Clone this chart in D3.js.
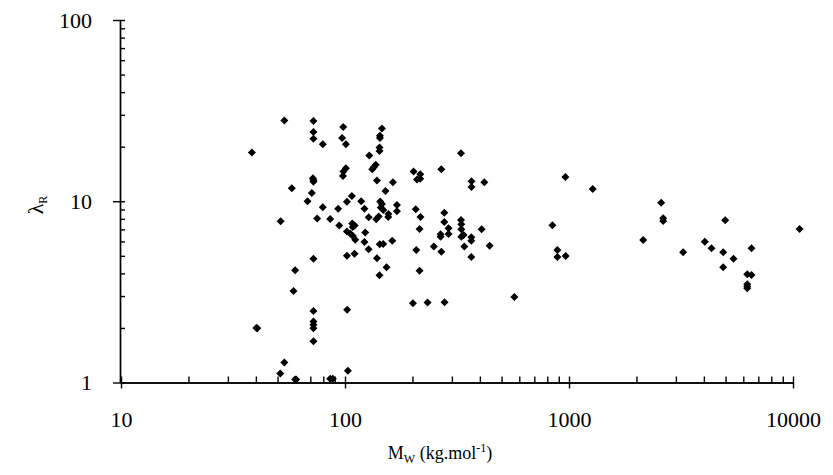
<!DOCTYPE html>
<html>
<head>
<meta charset="utf-8">
<script src="https://cdn.jsdelivr.net/npm/d3@7"></script>
<style>
  body { margin: 0; background: #fff; }
  svg { display: block; }
  text { font-family: "Liberation Serif", "DejaVu Serif", serif; }
</style>
</head>
<body>
<svg width="833" height="475"></svg>
<script>
// molecular weight (kg/mol)
var mw = [38.4, 40.2, 40.6, 51.6, 51.4, 53.6, 53.6, 57.9, 59.9, 58.9, 59.9, 60.5,
  68.0, 72.3, 72.3, 72.3, 71.9, 72.3, 72.3, 71.1, 72.3, 72.3, 72.3, 72.3, 72.3, 72.3,
  75.1, 79.6, 79.6, 85.9, 85.9, 88.3, 93.2, 94.2,
  98.2, 97.1, 100.9, 100.9, 98.4, 97.9, 102, 102, 102, 102.3, 103,
  107.3, 107.7, 110.5, 108.2, 105.5, 108.4, 111.1, 110.3,
  118.1, 122.1, 127.6, 123.1, 122.1, 127.4, 128.3, 137.1, 134.4, 132.3, 138.9, 138.9, 137.9,
  146.2, 143.2, 143.2, 142.6, 142.6, 143.6, 146.2, 144.4, 148.2, 141.4, 142.9, 148.2, 142.6,
  151.6, 163.7, 156.3, 156.0, 162.5, 153.3, 170.6, 170.6,
  202.3, 216.8, 209.6, 216.8, 207.0, 217.3, 215.2, 208.1, 215.2, 201.1, 233.7, 249.1,
  269.1, 277.5, 277.5, 290.0, 290.0, 267.1, 267.1, 269.1, 278.3,
  329.5, 329.5, 330.5, 330.5, 330.5, 338.4, 340.9, 367.1, 367.1, 366.3, 366.3, 366.3,
  407.2, 418.7, 442.2, 570.2, 843.1, 887.5, 887.5, 966.5, 963.5, 1276,
  2144, 2579, 2633, 2633, 3233, 4038, 4326, 4880, 5426, 4880, 4982,
  6528, 6248, 6528, 6248, 6248, 6248, 10700];

// lambda_R
var lambdaR = [18.6, 2.00, 1.99, 7.76, 1.12, 27.9, 1.29, 11.8, 4.16, 3.20, 1.04, 1.04,
  10.0, 27.7, 24.1, 22.1, 13.4, 13.1, 12.8, 11.1, 4.82, 2.48, 2.17, 2.08, 1.99, 1.69,
  8.02, 20.6, 9.27, 7.99, 1.05, 1.05, 9.09, 7.36,
  25.7, 22.3, 20.6, 15.2, 14.6, 13.8, 9.94, 6.81, 5.00, 2.52, 1.16,
  10.7, 7.54, 7.36, 7.21, 6.64, 6.44, 6.14, 5.13,
  10.0, 9.09, 8.17, 6.73, 5.96, 5.44, 17.9, 15.9, 15.4, 15.0, 13.0, 4.85, 7.96,
  25.2, 23.0, 22.3, 19.8, 18.95, 9.97, 9.66, 9.24, 8.95, 8.25, 5.79, 5.81, 3.90,
  11.4, 12.75, 8.51, 8.19, 6.06, 4.32, 9.52, 8.82,
  14.6, 14.1, 13.2, 13.3, 9.03, 8.19, 7.03, 5.39, 4.14, 2.74, 2.76, 5.62,
  15.0, 8.65, 7.69, 7.10, 6.60, 6.58, 6.38, 5.27, 2.77,
  18.4, 7.88, 7.47, 7.01, 6.38, 6.52, 5.62, 12.9, 12.0, 6.33, 6.06, 4.93,
  7.01, 12.75, 5.69, 2.96, 7.37, 5.39, 4.93, 4.99, 13.6, 11.7,
  6.12, 9.82, 8.06, 7.78, 5.23, 5.98, 5.50, 5.23, 4.82, 4.32, 7.86,
  5.50, 3.96, 3.92, 3.48, 3.39, 3.31, 7.03];

var xTicks = [10, 100, 1000, 10000];
var yTicks = [1, 10, 100];

var svg = d3.select("svg");

var x = d3.scaleLog().domain([10, 10000]).range([121, 793]);
var y = d3.scaleLog().domain([1, 100]).range([382.5, 20]);

// x axis: minor ticks inward, major ticks crossing
svg.append("g")
  .attr("transform", "translate(0,382.5)")
  .call(d3.axisBottom(x).tickValues(x.ticks()).tickSize(-6).tickSizeOuter(0).tickFormat(""));
svg.append("g")
  .attr("transform", "translate(0,382.5)")
  .call(d3.axisBottom(x).tickValues(xTicks).tickSize(6).tickSizeOuter(0).tickPadding(23)
    .tickFormat(d3.format("d")));

// y axis
svg.append("g")
  .attr("transform", "translate(120,0)")
  .call(d3.axisLeft(y).tickValues(y.ticks()).tickSize(-5).tickSizeOuter(0).tickFormat(""));
svg.append("g")
  .attr("transform", "translate(120,0)")
  .call(d3.axisLeft(y).tickValues(yTicks).tickSize(7).tickSizeOuter(0).tickPadding(21)
    .tickFormat(d3.format("d")));

svg.selectAll(".domain, .tick line")
  .attr("stroke", "#000")
  .attr("stroke-width", 1.4);
svg.selectAll(".tick text")
  .attr("fill", "#000")
  .style("font-size", "22px");

// points
svg.append("g")
  .selectAll("path")
  .data(mw)
  .enter()
  .append("path")
  .attr("d", d3.symbol().type(d3.symbolSquare).size(32))
  .attr("transform", function(d, i) {
    return "translate(" + x(d) + "," + y(lambdaR[i]) + ") rotate(45)";
  })
  .style("fill", "#000");

// axis titles
var xt = svg.append("text")
  .attr("x", 440)
  .attr("y", 459)
  .attr("text-anchor", "middle")
  .style("font-size", "18px");
xt.append("tspan").text("M");
xt.append("tspan").attr("dy", 4).style("font-size", "12px").text("W");
xt.append("tspan").attr("dy", -4).text(" (kg.mol");
xt.append("tspan").attr("dy", -7).style("font-size", "12px").text("-1");
xt.append("tspan").attr("dy", 7).text(")");

var yt = svg.append("text")
  .attr("transform", "translate(43,205) rotate(-90)")
  .attr("text-anchor", "middle")
  .style("font-size", "22px");
yt.append("tspan").text("λ");
yt.append("tspan").attr("dy", 4).style("font-size", "12px").text("R");
</script>
</body>
</html>
